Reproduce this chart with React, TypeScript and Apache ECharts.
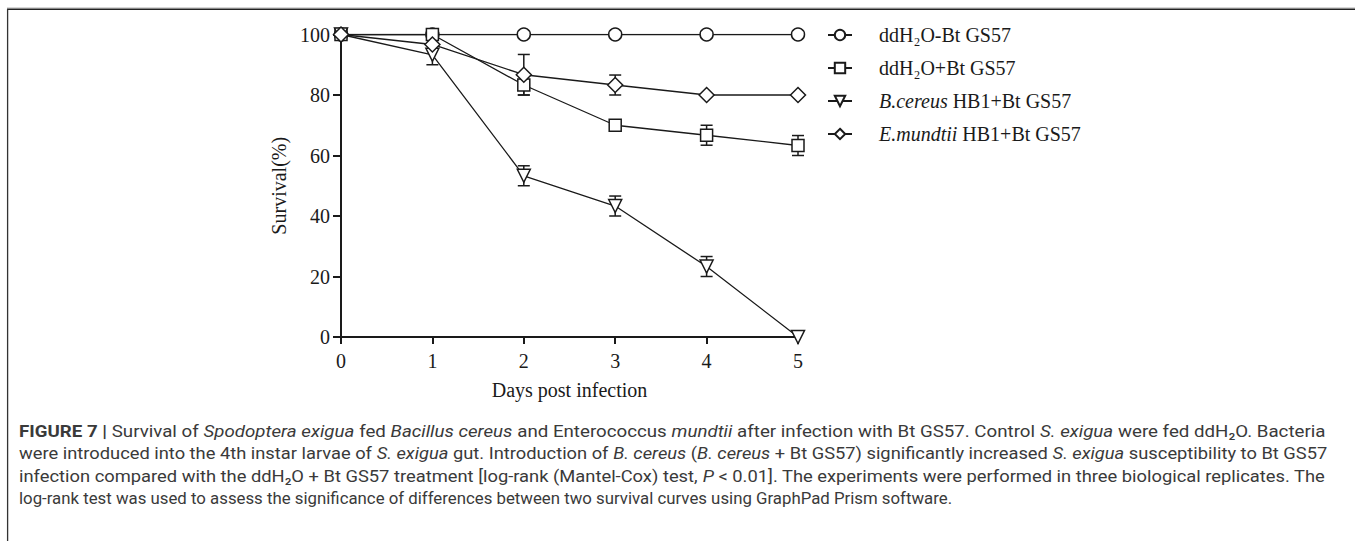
import React, { useEffect, useRef } from 'react';
import * as echarts from 'echarts';

// ---- data ----
const days = [0, 1, 2, 3, 4, 5];
const seriesNames = ['ddH₂O-Bt GS57', 'ddH₂O+Bt GS57', 'B.cereus HB1+Bt GS57', 'E.mundtii HB1+Bt GS57'];
const ctrlValues = [100, 100, 100, 100, 100, 100];
const btValues = [100, 100, 83.3, 70, 66.7, 63.3];
const cereusValues = [100, 93.3, 53.3, 43.3, 23.3, 0];
const mundtiiValues = [100, 96.7, 86.7, 83.3, 80, 80];
const ctrlErr = [0, 0, 0, 0, 0, 0];
const btErr = [0, 0, 3.3, 0, 3.3, 3.3];
const cereusErr = [0, 3.3, 3.3, 3.3, 3.3, 0];
const mundtiiErr = [0, 0, 6.7, 3.3, 0, 0];
const xTickLabels = ['0', '1', '2', '3', '4', '5'];
const yTickLabels = ['0', '20', '40', '60', '80', '100'];

const captionLines: [string, string][][] = [
  [['b', 'FIGURE 7 |'], ['n', ' Survival of '], ['i', 'Spodoptera exigua'], ['n', ' fed '], ['i', 'Bacillus cereus'], ['n', ' and Enterococcus '], ['i', 'mundtii'], ['n', ' after infection with Bt GS57. Control '], ['i', 'S. exigua'], ['n', ' were fed ddH₂O. Bacteria']],
  [['n', 'were introduced into the 4th instar larvae of '], ['i', 'S. exigua'], ['n', ' gut. Introduction of '], ['i', 'B. cereus'], ['n', ' ('], ['i', 'B. cereus'], ['n', ' + Bt GS57) significantly increased '], ['i', 'S. exigua'], ['n', ' susceptibility to Bt GS57']],
  [['n', 'infection compared with the ddH₂O + Bt GS57 treatment [log-rank (Mantel-Cox) test, '], ['i', 'P'], ['n', ' < 0.01]. The experiments were performed in three biological replicates. The']],
  [['n', 'log-rank test was used to assess the significance of differences between two survival curves using GraphPad Prism software.']],
];
const captionY = [431, 453, 476, 498];
const captionRight = [1326, 1327, 1326, 953];

const SERIF = '"Liberation Serif", "Times New Roman", serif';
const SANS = 'Roboto, "Liberation Sans", sans-serif';
const CAP_SIZE = 17;

function measure(segs: [string, string][]) {
  const ctx = document.createElement('canvas').getContext('2d')!;
  let w = 0;
  for (const [k, t] of segs) {
    ctx.font = `${k === 'i' ? 'italic ' : ''}${k === 'b' ? 'bold ' : ''}${CAP_SIZE}px ${SANS}`;
    w += ctx.measureText(t).width;
  }
  return w;
}

function errData(vals: number[], errs: number[]) {
  const out: number[][] = [];
  days.forEach((d, i) => {
    if (errs[i] > 0) out.push([d, vals[i] - errs[i], vals[i] + errs[i]]);
  });
  return out;
}

export default function App() {
  const ref = useRef<HTMLDivElement>(null);
  useEffect(() => {
    if (!ref.current) return;
    const chart = echarts.init(ref.current, undefined, { renderer: 'svg' });
    const black = '#1a1a1a';
    const mk = (name: string, vals: number[], symbol: string, size: number, rotate = 0) => ({
      name,
      type: 'line',
      data: days.map((d, i) => [d, vals[i]]),
      symbol,
      symbolSize: size,
      symbolRotate: rotate,
      showAllSymbol: true,
      lineStyle: { color: black, width: 1.3 },
      itemStyle: { color: '#fff', borderColor: black, borderWidth: 1.5 },
      z: 3,
    });
    const errSeries = (vals: number[], errs: number[]) => ({
      type: 'custom',
      z: 2,
      silent: true,
      data: errData(vals, errs),
      renderItem: (params: any, api: any) => {
        const x = api.value(0);
        const lo = api.coord([x, api.value(1)]);
        const hi = api.coord([x, api.value(2)]);
        const w = 6;
        const st = { stroke: black, lineWidth: 1.5 };
        return {
          type: 'group',
          children: [
            { type: 'line', shape: { x1: lo[0], y1: lo[1], x2: hi[0], y2: hi[1] }, style: st },
            { type: 'line', shape: { x1: lo[0] - w, y1: lo[1], x2: lo[0] + w, y2: lo[1] }, style: st },
            { type: 'line', shape: { x1: hi[0] - w, y1: hi[1], x2: hi[0] + w, y2: hi[1] }, style: st },
          ],
        };
      },
    });

    const capColor = '#3a3a3a';
    const capRich = {
      n: { fontFamily: SANS, fontSize: CAP_SIZE, color: capColor },
      i: { fontFamily: SANS, fontSize: CAP_SIZE, fontStyle: 'italic', color: capColor },
      b: { fontFamily: SANS, fontSize: CAP_SIZE, fontWeight: 'bold', color: '#222' },
    };
    const captionGraphics = captionLines.map((segs, li) => {
      const w = measure(segs);
      const target = captionRight[li] - 19;
      return {
        type: 'text',
        x: 19,
        y: captionY[li],
        scaleX: target / w,
        style: {
          text: segs.map(([k, t]) => `{${k}|${t}}`).join(''),
          rich: capRich,
          fontFamily: SANS,
          fontSize: CAP_SIZE,
          fill: capColor,
          verticalAlign: 'middle',
          align: 'left',
        },
      };
    });

    const legendFmt = (name: string) => {
      if (name.startsWith('B.cereus')) return '{i|B.cereus}{n| HB1+Bt GS57}';
      if (name.startsWith('E.mundtii')) return '{i|E.mundtii}{n| HB1+Bt GS57}';
      return '{n|' + name + '}';
    };

    chart.setOption({
      animation: false,
      backgroundColor: '#fff',
      grid: { left: 341, top: 34.5, width: 457, height: 302.5 },
      xAxis: {
        type: 'value',
        min: 0,
        max: 5,
        interval: 1,
        name: 'Days post infection',
        nameLocation: 'middle',
        nameGap: 43,
        nameTextStyle: { fontFamily: SERIF, fontSize: 20, color: black },
        axisLine: { lineStyle: { color: black, width: 2 } },
        axisTick: { length: 7, lineStyle: { color: black, width: 2 } },
        axisLabel: { fontFamily: SERIF, fontSize: 20, color: black, margin: 14, formatter: (v: number) => xTickLabels[v] ?? '' },
        splitLine: { show: false },
      },
      yAxis: {
        type: 'value',
        min: 0,
        max: 100,
        interval: 20,
        name: 'Survival(%)',
        nameLocation: 'middle',
        nameRotate: 90,
        nameGap: 52,
        nameTextStyle: { fontFamily: SERIF, fontSize: 20, color: black },
        axisLine: { show: true, lineStyle: { color: black, width: 2 } },
        axisTick: { show: true, length: 8, lineStyle: { color: black, width: 2 } },
        axisLabel: { fontFamily: SERIF, fontSize: 20, color: black, margin: 11, formatter: (v: number) => yTickLabels[v / 20] ?? '' },
        splitLine: { show: false },
      },
      legend: {
        data: seriesNames,
        orient: 'vertical',
        left: 827,
        top: 25,
        padding: 0,
        itemGap: 13,
        itemWidth: 24,
        itemHeight: 13,
        selectedMode: false,
        formatter: legendFmt,
        textStyle: {
          fontFamily: SERIF,
          fontSize: 20,
          color: black,
          padding: [0, 0, 0, 22],
          rich: {
            n: { fontFamily: SERIF, fontSize: 20, color: black, lineHeight: 20 },
            i: { fontFamily: SERIF, fontSize: 20, color: black, fontStyle: 'italic', lineHeight: 20 },
          },
        },
      },
      series: [
        mk(seriesNames[0], ctrlValues, 'circle', 13),
        mk(seriesNames[1], btValues, 'rect', 12),
        mk(seriesNames[2], cereusValues, 'triangle', 13, 180),
        mk(seriesNames[3], mundtiiValues, 'diamond', 15),
        errSeries(ctrlValues, ctrlErr),
        errSeries(btValues, btErr),
        errSeries(cereusValues, cereusErr),
        errSeries(mundtiiValues, mundtiiErr),
      ],
      graphic: [
        { type: 'line', shape: { x1: 7, y1: 7.8, x2: 1355, y2: 7.8 }, style: { stroke: '#c8c8c8', lineWidth: 1 } },
        { type: 'line', shape: { x1: 7, y1: 9.2, x2: 1355, y2: 9.2 }, style: { stroke: '#222', lineWidth: 1.5 } },
        { type: 'line', shape: { x1: 7.6, y1: 9, x2: 7.6, y2: 541 }, style: { stroke: '#333', lineWidth: 1.3 } },
        ...captionGraphics,
      ],
    });
    return () => chart.dispose();
  }, []);
  return <div ref={ref} style={{ position: 'fixed', left: 0, top: 0, width: 1355, height: 541, background: '#fff' }} />;
}
